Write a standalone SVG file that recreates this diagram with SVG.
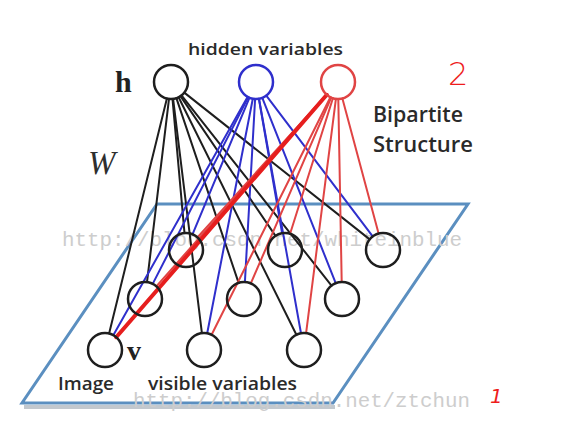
<svg xmlns="http://www.w3.org/2000/svg" width="564" height="436" viewBox="0 0 564 436">
<style>
.node{fill:none;stroke-width:2.5}
.k{stroke:#1e1e1e}
.b{stroke:#2f2fcc}
.r{stroke:#e04444}
.e{stroke-width:2;fill:none;stroke-linecap:round}
.lbl{font-family:"Open Sans","Liberation Sans",sans-serif;fill:#2a2a2a;font-weight:600}
.mark{font-family:"Liberation Serif",serif;fill:#222;font-weight:bold}
.wm{font-family:"Liberation Mono",monospace;fill:#cdcdcd;font-size:21px}
.hand{font-family:"DejaVu Sans",sans-serif;fill:#ee1c1c}
</style>
<rect width="564" height="436" fill="#ffffff"/>
<g id="plane">
<path d="M24,407 L335,407" stroke="#9aa4ae" stroke-width="4" opacity="0.6" fill="none"/>
<polygon points="157,204 468,204 333,403 22,403" fill="#ffffff" stroke="#5b8fc0" stroke-width="3" stroke-linejoin="miter"/>
</g>
<g id="watermarks">
<text class="wm" x="62" y="246" textLength="400" lengthAdjust="spacingAndGlyphs">http://blog.csdn.net/whiteinblue</text>
<text class="wm" x="133" y="407" textLength="337" lengthAdjust="spacingAndGlyphs">http://blog.csdn.net/ztchun</text>
</g>
<g id="connectors">
<g class="e k">
<line x1="172.5" y1="98.9" x2="184.5" y2="233.1"/>
<line x1="180.5" y1="96.1" x2="275.5" y2="235.9"/>
<line x1="184.3" y1="92.6" x2="369.7" y2="239.4"/>
<line x1="169.0" y1="98.9" x2="147.0" y2="282.1"/>
<line x1="176.4" y1="98.1" x2="238.6" y2="282.9"/>
<line x1="181.5" y1="95.4" x2="331.5" y2="285.6"/>
<line x1="166.9" y1="98.5" x2="109.1" y2="333.5"/>
<line x1="173.1" y1="98.9" x2="201.9" y2="333.1"/>
<line x1="178.6" y1="97.2" x2="296.4" y2="334.8"/>
</g>
<g class="e b">
<line x1="249.5" y1="97.7" x2="192.5" y2="234.3"/>
<line x1="258.9" y1="98.8" x2="282.1" y2="233.2"/>
<line x1="266.3" y1="95.6" x2="372.7" y2="236.4"/>
<line x1="248.3" y1="97.1" x2="152.7" y2="283.9"/>
<line x1="255.1" y1="99.0" x2="244.9" y2="282.0"/>
<line x1="262.3" y1="97.8" x2="335.7" y2="283.2"/>
<line x1="247.7" y1="96.8" x2="113.3" y2="335.2"/>
<line x1="252.8" y1="98.7" x2="207.2" y2="333.3"/>
<line x1="259.0" y1="98.7" x2="301.0" y2="333.3"/>
</g>
<g class="e r">
<line x1="326.6" y1="94.6" x2="197.4" y2="237.4"/>
<line x1="332.9" y1="98.2" x2="290.1" y2="233.8"/>
<line x1="342.4" y1="98.4" x2="378.6" y2="233.6"/>
<line x1="326.7" y1="94.7" x2="156.3" y2="286.3"/>
<line x1="331.2" y1="97.6" x2="250.8" y2="283.4"/>
<line x1="338.3" y1="99.0" x2="341.7" y2="282.0"/>
<line x1="330.4" y1="97.2" x2="211.6" y2="334.8"/>
<line x1="335.9" y1="98.9" x2="306.1" y2="333.1"/>
</g>
<line x1="326.8" y1="94.8" x2="116.2" y2="337.2" stroke="#e61e1e" stroke-width="4" stroke-linecap="round"/>
</g>
<g id="h1"><circle class="node k" cx="171" cy="82" r="17"/></g>
<g id="h2"><circle class="node b" cx="256" cy="82" r="17"/></g>
<g id="h3"><circle class="node r" cx="338" cy="82" r="17"/></g>
<g id="v1"><circle class="node k" cx="186" cy="250" r="17"/></g>
<g id="v2"><circle class="node k" cx="285" cy="250" r="17"/></g>
<g id="v3"><circle class="node k" cx="383" cy="250" r="17"/></g>
<g id="v4"><circle class="node k" cx="145" cy="299" r="17"/></g>
<g id="v5"><circle class="node k" cx="244" cy="299" r="17"/></g>
<g id="v6"><circle class="node k" cx="342" cy="299" r="17"/></g>
<g id="v7"><circle class="node k" cx="105" cy="350" r="17"/></g>
<g id="v8"><circle class="node k" cx="204" cy="350" r="17"/></g>
<g id="v9"><circle class="node k" cx="304" cy="350" r="17"/></g>
<g id="labels">
<text class="lbl" x="188" y="55" font-size="17" textLength="155" lengthAdjust="spacingAndGlyphs">hidden variables</text>
<text class="mark" x="115" y="92" font-size="30">h</text>
<text x="88" y="174" font-family="Liberation Serif,serif" font-style="italic" font-size="33" fill="#2e2e2e">W</text>
<text class="lbl" x="373" y="122" font-size="22" textLength="90" lengthAdjust="spacingAndGlyphs">Bipartite</text>
<text class="lbl" x="373" y="152" font-size="22" textLength="100" lengthAdjust="spacingAndGlyphs">Structure</text>
<text class="mark" x="127" y="360" font-size="28">v</text>
<text class="lbl" x="58" y="390" font-size="18" textLength="56" lengthAdjust="spacingAndGlyphs">Image</text>
<text class="lbl" x="148" y="390" font-size="18" textLength="149" lengthAdjust="spacingAndGlyphs">visible variables</text>
<text class="hand" x="448" y="85" font-size="32" font-weight="300">2</text>
<text class="hand" x="490" y="403" font-size="20" font-style="italic">1</text>
</g>
</svg>
